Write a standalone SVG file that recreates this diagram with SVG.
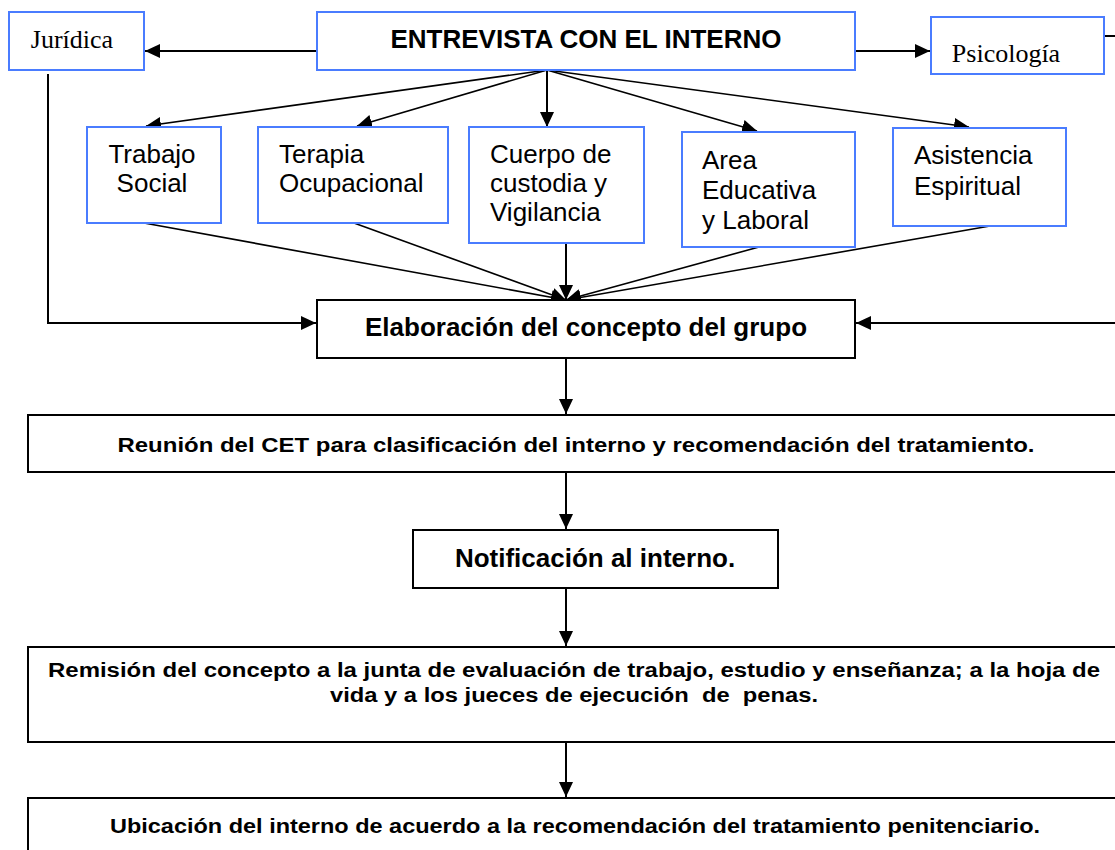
<svg xmlns="http://www.w3.org/2000/svg" width="1115" height="850" viewBox="0 0 1115 850">
<style>
.bb{fill:#fff;stroke:#4a7cff;stroke-width:2}
.kb{fill:#fff;stroke:#000;stroke-width:2}
.tm{font-family:"Liberation Serif","Times New Roman",serif;font-size:26px;fill:#000}
.ar{font-family:"Liberation Sans",Arial,sans-serif;font-size:26px;fill:#000}
.bd{font-family:"Liberation Sans",Arial,sans-serif;font-weight:bold;fill:#000}
.ln{fill:none;stroke:#000;stroke-width:2}
.fn{fill:none;stroke:#000;stroke-width:1.6}
</style>
<defs>
<marker id="ah" markerUnits="userSpaceOnUse" markerWidth="16" markerHeight="14" refX="15" refY="7" orient="auto">
<path d="M0,0 L15,7 L0,14 z" fill="#000"/>
</marker>
</defs>
<g id="connectors">
<line class="ln" x1="317" y1="51" x2="145" y2="51" marker-end="url(#ah)"/>
<line class="ln" x1="855" y1="51" x2="930" y2="51" marker-end="url(#ah)"/>
<line class="fn" x1="547" y1="70" x2="146" y2="126" marker-end="url(#ah)"/>
<line class="fn" x1="547" y1="70" x2="357" y2="126" marker-end="url(#ah)"/>
<line class="ln" x1="547" y1="70" x2="547" y2="127" marker-end="url(#ah)"/>
<line class="fn" x1="547" y1="70" x2="757" y2="131" marker-end="url(#ah)"/>
<line class="fn" x1="547" y1="70" x2="969" y2="127" marker-end="url(#ah)"/>
<line class="fn" x1="144" y1="223" x2="566" y2="300" marker-end="url(#ah)"/>
<line class="fn" x1="354" y1="223" x2="566" y2="300" marker-end="url(#ah)"/>
<line class="ln" x1="566" y1="243" x2="566" y2="300" marker-end="url(#ah)"/>
<line class="fn" x1="759" y1="247" x2="566" y2="300" marker-end="url(#ah)"/>
<line class="fn" x1="990" y1="226" x2="566" y2="300" marker-end="url(#ah)"/>
<path class="ln" d="M48,74 V323 H316" marker-end="url(#ah)"/>
<path class="ln" d="M1104,36 H1130 V323 H856" marker-end="url(#ah)"/>
<line class="ln" x1="566" y1="358" x2="566" y2="414" marker-end="url(#ah)"/>
<line class="ln" x1="566" y1="472" x2="566" y2="529" marker-end="url(#ah)"/>
<line class="ln" x1="566" y1="588" x2="566" y2="646" marker-end="url(#ah)"/>
<line class="ln" x1="566" y1="742" x2="566" y2="797" marker-end="url(#ah)"/>
</g>
<g id="juridica">
<rect class="bb" x="9" y="12" width="135" height="58"/>
<text class="tm" x="72" y="48" text-anchor="middle">Jurídica</text>
</g>
<g id="entrevista">
<rect class="bb" x="317" y="12" width="538" height="58"/>
<text class="bd" x="586" y="48" font-size="26" text-anchor="middle">ENTREVISTA CON EL INTERNO</text>
</g>
<g id="psicologia">
<rect class="bb" x="931" y="17" width="173" height="57"/>
<text class="tm" x="1006" y="62" text-anchor="middle">Psicología</text>
</g>
<g id="trabajo-social">
<rect class="bb" x="87" y="127" width="134" height="96"/>
<text class="ar" x="152" y="163" text-anchor="middle">Trabajo</text>
<text class="ar" x="152" y="192" text-anchor="middle">Social</text>
</g>
<g id="terapia">
<rect class="bb" x="258" y="127" width="190" height="96"/>
<text class="ar" x="279" y="163">Terapia</text>
<text class="ar" x="279" y="192">Ocupacional</text>
</g>
<g id="cuerpo">
<rect class="bb" x="469" y="127" width="175" height="116"/>
<text class="ar" x="490" y="163">Cuerpo de</text>
<text class="ar" x="490" y="192">custodia y</text>
<text class="ar" x="490" y="221">Vigilancia</text>
</g>
<g id="area">
<rect class="bb" x="682" y="132" width="173" height="115"/>
<text class="ar" x="702" y="169">Area</text>
<text class="ar" x="702" y="199">Educativa</text>
<text class="ar" x="702" y="229">y Laboral</text>
</g>
<g id="asistencia">
<rect class="bb" x="893" y="128" width="173" height="98"/>
<text class="ar" x="914" y="164">Asistencia</text>
<text class="ar" x="914" y="195">Espiritual</text>
</g>
<g id="elaboracion">
<rect class="kb" x="317" y="300" width="538" height="58"/>
<text class="bd" x="586" y="336" font-size="26" text-anchor="middle">Elaboración del concepto del grupo</text>
</g>
<g id="reunion">
<rect class="kb" x="28" y="415" width="1100" height="57"/>
<text class="bd" x="576" y="452" font-size="20" text-anchor="middle" textLength="917" lengthAdjust="spacingAndGlyphs">Reunión del CET para clasificación del interno y recomendación del tratamiento.</text>
</g>
<g id="notificacion">
<rect class="kb" x="413" y="530" width="365" height="58"/>
<text class="bd" x="595" y="567" font-size="26" text-anchor="middle">Notificación al interno.</text>
</g>
<g id="remision">
<rect class="kb" x="28" y="647" width="1100" height="95"/>
<text class="bd" x="574" y="677" font-size="20" text-anchor="middle" textLength="1052" lengthAdjust="spacingAndGlyphs">Remisión del concepto a la junta de evaluación de trabajo, estudio y enseñanza; a la hoja de</text>
<text class="bd" x="574" y="702" font-size="20" text-anchor="middle" style="white-space:pre" textLength="488" lengthAdjust="spacingAndGlyphs">vida y a los jueces de ejecución  de  penas.</text>
</g>
<g id="ubicacion">
<rect class="kb" x="28" y="798" width="1100" height="70"/>
<text class="bd" x="575" y="833" font-size="20" text-anchor="middle" textLength="930" lengthAdjust="spacingAndGlyphs">Ubicación del interno de acuerdo a la recomendación del tratamiento penitenciario.</text>
</g>
</svg>
